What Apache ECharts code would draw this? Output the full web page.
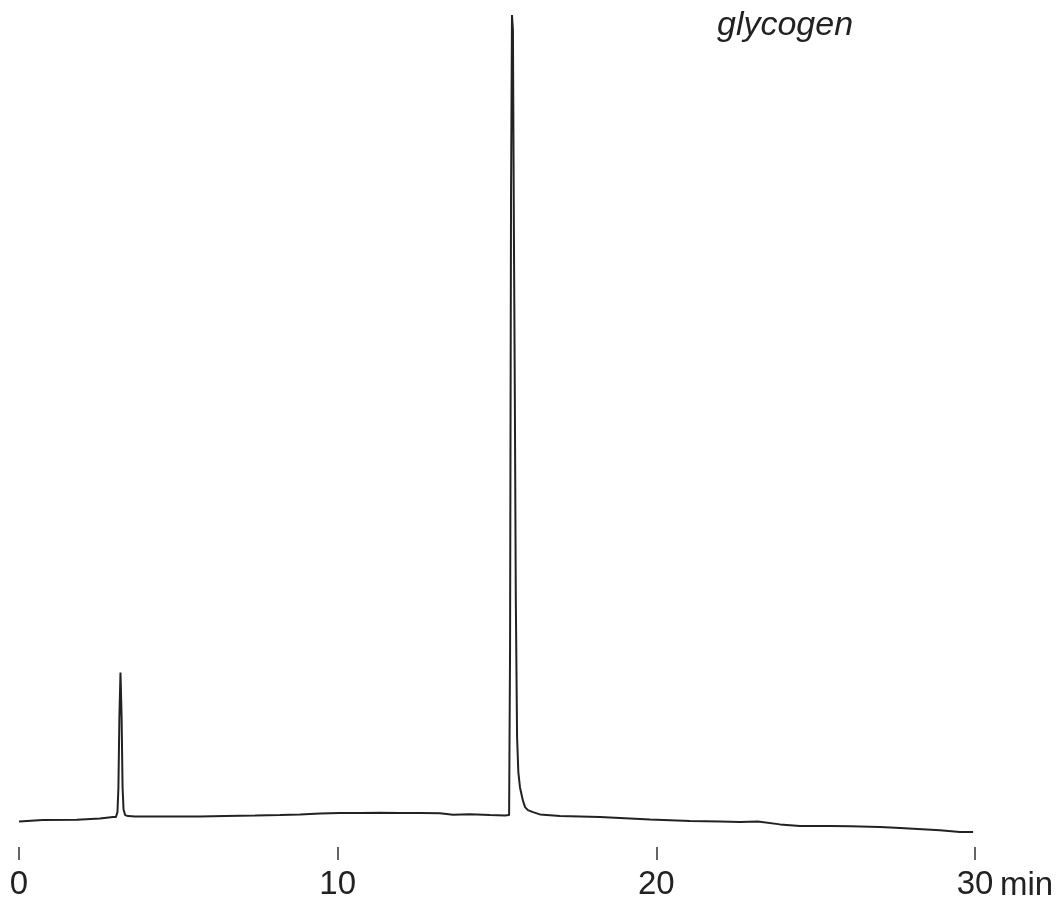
<!DOCTYPE html>
<html>
<head>
<meta charset="utf-8">
<script src="https://cdn.jsdelivr.net/npm/echarts@6/dist/echarts.min.js"></script>
<style>
html,body{margin:0;padding:0;background:#fff;}
#chart{width:1060px;height:901px;}
</style>
</head>
<body>
<div id="chart"></div>
<script>
// retention time (min)
var times = [0, 0.75, 1.82, 2.54, 2.95, 3.04, 3.09, 3.12, 3.15, 3.185, 3.22, 3.25, 3.28, 3.33, 3.42, 3.64,
  5.05, 5.68, 6.46, 7.41, 8.19, 8.82, 9.45, 10.07, 10.70, 11.33, 11.96, 12.58, 13.21, 13.62, 14.15, 14.78,
  15.25, 15.38, 15.41, 15.44, 15.47, 15.50, 15.53, 15.56, 15.59, 15.63, 15.67, 15.72, 15.81, 15.88, 15.97,
  16.13, 16.35, 16.98, 18.23, 19.80, 21.06, 22.0, 22.62, 23.19, 23.88, 24.51, 25.45, 26.08, 27.02, 27.65,
  28.90, 29.53, 29.94];
// detector signal (arbitrary units)
var signal = [25.7, 27, 27.3, 28.5, 30, 30, 35, 60, 130, 175, 130, 60, 38, 32, 31, 30.7,
  30.7, 30.5, 31.2, 31.7, 32.2, 32.7, 33.5, 34, 34, 34.3, 34, 34, 33.8, 32.3, 32.8, 32,
  31.5, 32, 200, 650, 835, 820, 620, 450, 250, 110, 75, 60, 47, 40, 37,
  35, 32.7, 31, 30, 27.7, 26, 25.5, 25, 25.7, 22.7, 21, 21, 20.7, 20, 19,
  16.7, 15, 15];
var tickValues = [0, 10, 20, 30];
var xUnit = 'min';
var peakLabel = 'glycogen';

var data = times.map(function (t, i) { return [t, signal[i]]; });
var chart = echarts.init(document.getElementById('chart'));
var font = '"Liberation Sans", Arial, Helvetica, sans-serif';
chart.setOption({
  backgroundColor: '#ffffff',
  animation: false,
  grid: { left: 19, right: 85, top: 15, bottom: 51 },
  xAxis: {
    type: 'value', min: 0, max: 30, interval: 10,
    axisLine: { show: false },
    axisTick: { show: true, length: 13, lineStyle: { color: '#333', width: 1.5 } },
    splitLine: { show: false },
    axisLabel: {
      show: true, margin: 21, color: '#222', fontSize: 33, fontFamily: font,
      formatter: function (v) { return tickValues.indexOf(v) >= 0 ? String(v) : ''; }
    }
  },
  yAxis: { type: 'value', min: 0, max: 835, show: false },
  series: [{
    type: 'line', data: data, showSymbol: false, smooth: false,
    lineStyle: { color: '#222', width: 2 }
  }],
  graphic: [
    { type: 'text', left: 1000, top: 869, style: { text: xUnit, font: '33px ' + font, fill: '#222' } },
    { type: 'text', left: 717, top: 9, style: { text: peakLabel, font: 'italic 34px ' + font, fill: '#222' } }
  ]
});
</script>
</body>
</html>
